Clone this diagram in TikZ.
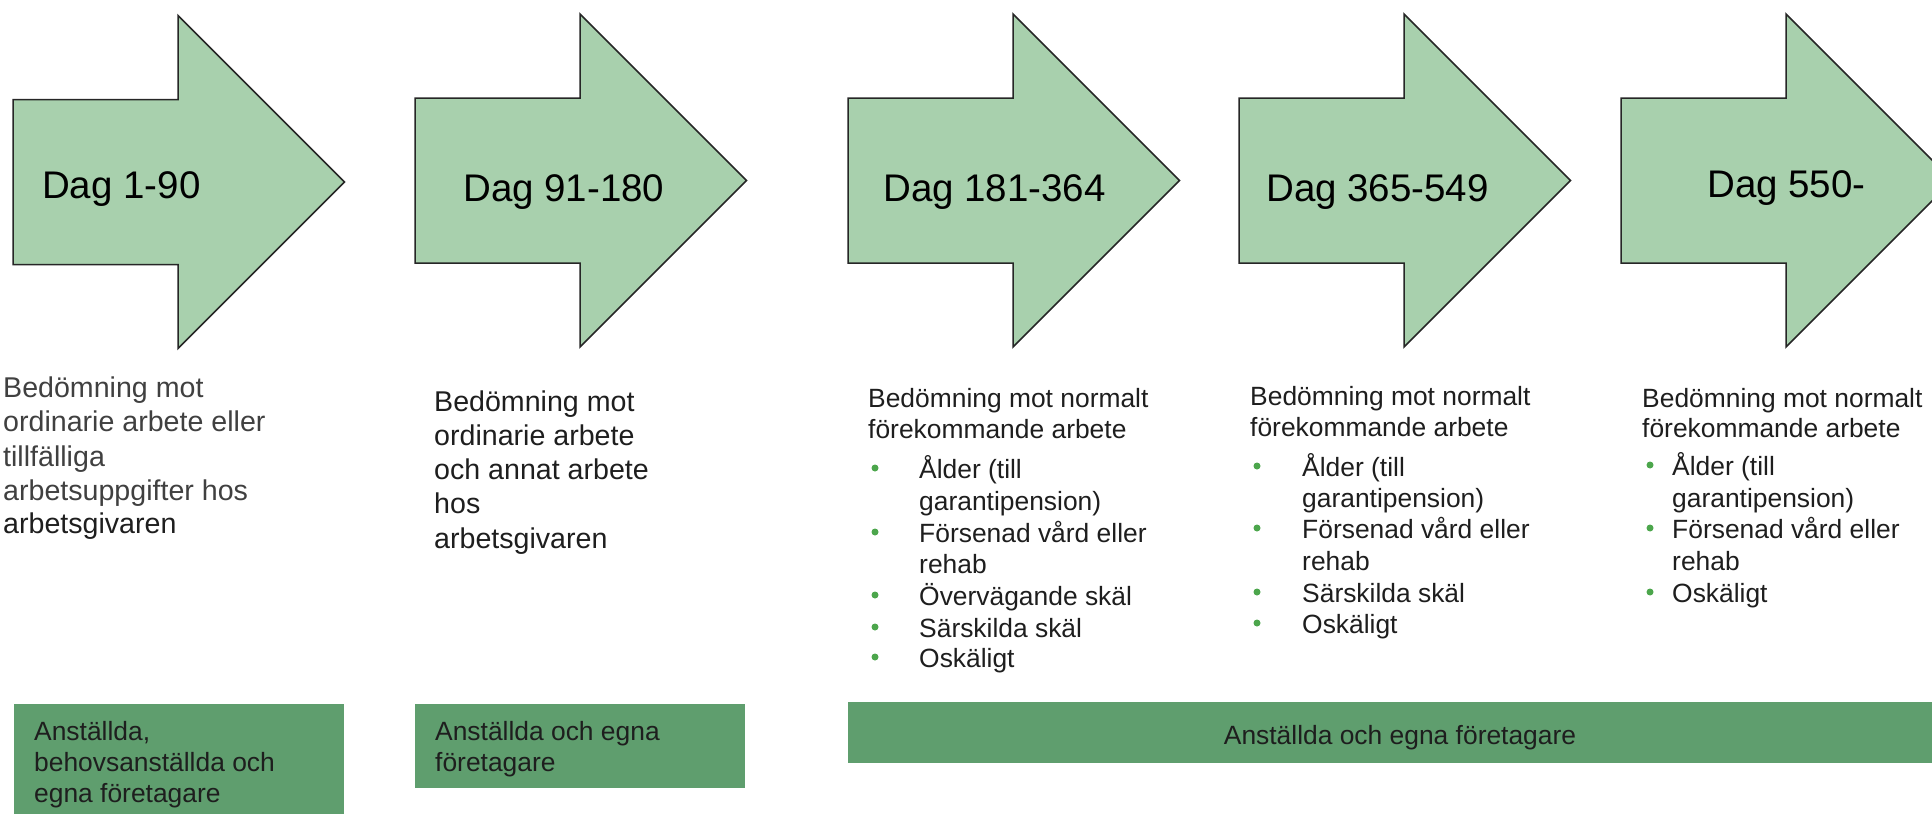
\documentclass[tikz,border=0pt]{standalone}
\usepackage{fontspec}
\setmainfont{Liberation Sans}
\definecolor{arrowfill}{RGB}{168,208,173}
\definecolor{arrowline}{RGB}{38,38,38}
\definecolor{barfill}{RGB}{95,158,110}
\definecolor{bulletgreen}{RGB}{76,166,76}
\definecolor{txtdark}{RGB}{30,30,30}
\definecolor{txtgray}{RGB}{64,64,64}
\newcommand\greenarrow[3]{% #1 left x, #2 centre y, #3 name
  \draw[arr] (#1,#2-82.5) -- (#1+165,#2-82.5) -- (#1+165,#2-166.5)
    -- (#1+331.5,#2) -- (#1+165,#2+166.5) -- (#1+165,#2+82.5)
    -- (#1,#2+82.5) -- cycle;
  \coordinate (#3) at (#1,#2);}
\begin{document}
\begin{tikzpicture}[x=1pt,y=-1pt,
  arr/.style={fill=arrowfill, draw=arrowline, line width=1.5pt, line join=miter},
  daglbl/.style={anchor=base west, inner sep=0, font=\fontsize{38.5}{46}\selectfont, text=black},
  bigtxt/.style={anchor=base west, inner sep=0, font=\fontsize{28.6}{34}\selectfont, text=txtgray},
  body/.style={anchor=base west, inner sep=0, font=\fontsize{26.4}{31}\selectfont, text=txtdark},
  bul/.style={circle, fill=bulletgreen, inner sep=0, minimum size=7pt},
  bar/.style={fill=barfill}]
\useasboundingbox (0,0) rectangle (1932,814);
\clip (0,0) rectangle (1932,814);

% arrows
\greenarrow{13}{182}{a1}
\greenarrow{415}{180.5}{a2}
\greenarrow{848}{180.5}{a3}
\greenarrow{1239}{180.5}{a4}
\greenarrow{1621}{180.5}{a5}
\node[daglbl] (d1) at (42,198) {Dag 1-90};
\node[daglbl] (d2) at (463,201) {Dag 91-180};
\node[daglbl] (d3) at (883,201) {Dag 181-364};
\node[daglbl] (d4) at (1266,201) {Dag 365-549};
\node[daglbl] (d5) at (1707,197) {Dag 550-};

% column 1
\node[bigtxt] (c1a) at (3,397) {Bedömning mot};
\node[bigtxt] (c1b) at (3,431) {ordinarie arbete eller};
\node[bigtxt] (c1c) at (3,466) {tillfälliga};
\node[bigtxt] (c1d) at (3,500) {arbetsuppgifter hos};
\node[bigtxt, text=txtdark] (c1e) at (3,533) {arbetsgivaren};

% column 2
\node[bigtxt, text=txtdark] (c2a) at (434,411) {Bedömning mot};
\node[bigtxt, text=txtdark] (c2b) at (434,445) {ordinarie arbete};
\node[bigtxt, text=txtdark] (c2c) at (434,479) {och annat arbete};
\node[bigtxt, text=txtdark] (c2d) at (434,513) {hos};
\node[bigtxt, text=txtdark] (c2e) at (434,548) {arbetsgivaren};

% column 3
\node[body] (c3a) at (868,407) {Bedömning mot normalt};
\node[body] (c3b) at (868,438) {förekommande arbete};
\node[body] (c3c) at (919,478) {Ålder (till};
\node[body] (c3d) at (919,510) {garantipension)};
\node[body] (c3e) at (919,542) {Försenad vård eller};
\node[body] (c3f) at (919,573) {rehab};
\node[body] (c3g) at (919,605) {Övervägande skäl};
\node[body] (c3h) at (919,637) {Särskilda skäl};
\node[body] (c3i) at (919,667) {Oskäligt};
\node[bul] (b3a) at (875,468) {};
\node[bul] (b3b) at (875,532) {};
\node[bul] (b3c) at (875,595) {};
\node[bul] (b3d) at (875,627) {};
\node[bul] (b3e) at (875,657) {};

% column 4
\node[body] (c4a) at (1250,405) {Bedömning mot normalt};
\node[body] (c4b) at (1250,436) {förekommande arbete};
\node[body] (c4c) at (1302,476) {Ålder (till};
\node[body] (c4d) at (1302,507) {garantipension)};
\node[body] (c4e) at (1302,538) {Försenad vård eller};
\node[body] (c4f) at (1302,570) {rehab};
\node[body] (c4g) at (1302,602) {Särskilda skäl};
\node[body] (c4h) at (1302,633) {Oskäligt};
\node[bul] (b4a) at (1257,466) {};
\node[bul] (b4b) at (1257,528) {};
\node[bul] (b4c) at (1257,592) {};
\node[bul] (b4d) at (1257,623) {};

% column 5
\node[body] (c5a) at (1642,407) {Bedömning mot normalt};
\node[body] (c5b) at (1642,437) {förekommande arbete};
\node[body] (c5c) at (1672,475) {Ålder (till};
\node[body] (c5d) at (1672,507) {garantipension)};
\node[body] (c5e) at (1672,538) {Försenad vård eller};
\node[body] (c5f) at (1672,570) {rehab};
\node[body] (c5g) at (1672,602) {Oskäligt};
\node[bul] (b5a) at (1650,465) {};
\node[bul] (b5b) at (1650,528) {};
\node[bul] (b5c) at (1650,592) {};

% bars
\fill[bar] (13.5,704) rectangle (344,814);
\fill[bar] (415,704) rectangle (745,788);
\fill[bar] (848,702) rectangle (1932,763);
\node[body] (e1a) at (34,740) {Anställda,};
\node[body] (e1b) at (34,771) {behovsanställda och};
\node[body] (e1c) at (34,802) {egna företagare};
\node[body] (e2a) at (435,740) {Anställda och egna};
\node[body] (e2b) at (435,771) {företagare};
\node[body, anchor=base] (e3) at (1400,744) {Anställda och egna företagare};
\end{tikzpicture}
\end{document}
